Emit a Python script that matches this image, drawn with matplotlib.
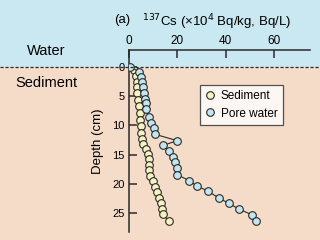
import matplotlib
matplotlib.use("Agg")
import matplotlib.pyplot as plt
from matplotlib.patches import Rectangle
from matplotlib.lines import Line2D

plt.rcParams['font.family'] = ['Liberation Sans', 'DejaVu Sans']

# 137Cs profiles (x10^4 Bq/kg for sediment, Bq/L for pore water) vs depth (cm)
sed_depth = [0.5, 1.5, 2.5, 3.5, 4.5, 5.6, 6.7, 7.9, 9.0, 10.1, 11.2, 12.3, 13.2,
             14.0, 14.9, 15.8, 16.7, 17.6, 18.6, 19.5, 20.5, 21.4, 22.4, 23.3,
             24.3, 25.2, 26.3]
sed_cs = [2.0, 3.0, 3.3, 3.5, 3.5, 3.8, 4.2, 4.6, 4.7, 4.8, 5.0, 5.3, 6.0,
          7.2, 7.8, 8.3, 8.4, 8.3, 8.9, 9.8, 10.6, 11.6, 12.6, 13.3,
          13.7, 14.0, 16.5]

pw_depth = [0.0, 0.8, 1.7, 2.5, 3.5, 4.5, 5.4, 6.2, 7.1, 8.5, 9.5, 10.4, 11.5,
            12.6, 13.4, 14.4, 15.3, 16.3, 17.3, 18.4, 19.4, 20.3, 21.2, 22.4,
            23.3, 24.3, 25.3, 26.3]
pw_cs = [0.5, 4.2, 5.0, 5.3, 5.7, 6.3, 6.7, 7.0, 7.0, 8.1, 9.2, 10.5, 10.8,
         20.0, 14.1, 16.7, 18.3, 19.2, 20.0, 20.0, 24.8, 28.0, 32.6, 37.3,
         41.3, 45.7, 51.1, 52.5]

water_col = "#c9e8f2"
sed_col = "#f5dcc8"
ink = "#2a2a2a"

fig = plt.figure(figsize=(3.2, 2.4), dpi=100)
fig.patch.set_facecolor(sed_col)
ax = fig.add_axes([129 / 320, 8 / 240, 181 / 320, 182 / 240])
ax.set_facecolor("none")
ax.set_xlim(0, 75)
ax.set_ylim(28.2, -2.9)

# water background above depth 0, dashed interface across the whole figure
y0 = fig.transFigure.inverted().transform(ax.transData.transform((0, 0)))[1]
fig.add_artist(Rectangle((0, y0), 1, 1 - y0, transform=fig.transFigure,
                         facecolor=water_col, edgecolor="none", zorder=0))
fig.add_artist(Line2D([0, 1], [y0, y0], transform=fig.transFigure,
                      color=ink, lw=0.9, ls=(0, (2.5, 1.5)), zorder=1))

ax.plot(sed_cs, sed_depth, color=ink, lw=0.8, marker="o", ms=5.5,
        mfc="#f6f2c2", mec=ink, mew=0.8, label="Sediment", zorder=3)
ax.plot(pw_cs, pw_depth, color=ink, lw=0.8, marker="o", ms=5.5,
        mfc="#c3e5ef", mec=ink, mew=0.8, label="Pore water", zorder=4)

for s in ["right", "bottom"]:
    ax.spines[s].set_visible(False)
for s in ["left", "top"]:
    ax.spines[s].set_color(ink)
    ax.spines[s].set_linewidth(1.1)
    ax.spines[s].set_zorder(2)

ax.xaxis.tick_top()
ax.set_xticks([0, 20, 40, 60])
ax.set_yticks([0, 5, 10, 15, 20, 25])
ax.tick_params(axis="x", direction="in", length=6, width=1.1, color=ink,
               labelsize=8.5, pad=2)
ax.tick_params(axis="y", direction="in", length=5.5, width=1.1, color=ink,
               labelsize=8, pad=3)
ax.set_ylabel("Depth (cm)", fontsize=9.5, labelpad=6)

fig.text(122 / 320, 1 - 20 / 240, "(a)", fontsize=9.5, ha="center", va="center")
fig.text(217 / 320, 1 - 22 / 240, r"$^{137}$Cs (×10$^{4}$ Bq/kg, Bq/L)",
         fontsize=9.5, ha="center", va="center")
fig.text(27 / 320, 1 - 51 / 240, "Water", fontsize=10.5, ha="left", va="center")
fig.text(15 / 320, 1 - 83 / 240, "Sediment", fontsize=10.5, ha="left", va="center")

leg = ax.legend(loc="upper left", bbox_to_anchor=(71 / 181, 1 - 35 / 182),
                fontsize=8.5, frameon=True, fancybox=False, handlelength=0.8,
                handletextpad=0.5, borderpad=0.45, labelspacing=0.45,
                borderaxespad=0)
leg.get_frame().set_edgecolor(ink)
leg.get_frame().set_linewidth(0.9)
for h in leg.legend_handles:
    h.set_linestyle("none")

fig.savefig("out.png", dpi=100, facecolor=fig.get_facecolor())
